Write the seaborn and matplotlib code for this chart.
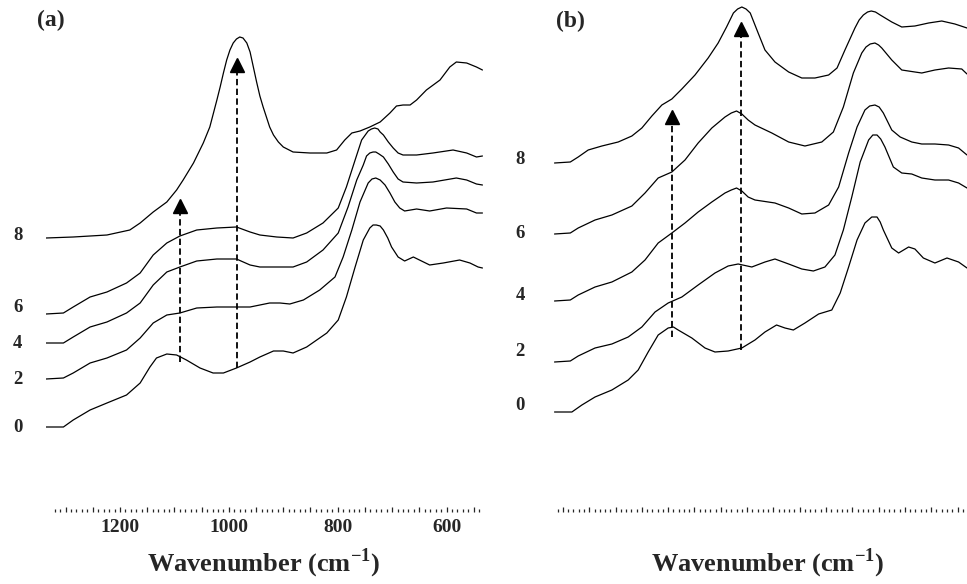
import numpy as np
import pandas as pd
import matplotlib
matplotlib.use('Agg')
import matplotlib.pyplot as plt
from matplotlib.ticker import FixedLocator, FuncFormatter
import seaborn as sns

sns.set_style('white')
plt.rcParams['font.family'] = ['Liberation Serif', 'DejaVu Serif']
plt.rcParams['font.weight'] = 'bold'
plt.rcParams['mathtext.fontset'] = 'custom'
plt.rcParams['mathtext.rm'] = 'Liberation Serif:bold'
plt.rcParams['mathtext.bf'] = 'Liberation Serif:bold'

times = [0, 2, 4, 6, 8]

# ---------------- panel (a) ----------------
a0_wn = [1336, 1304, 1286, 1255, 1224, 1188, 1163, 1145, 1133, 1114, 1096, 1078, 1053, 1029,
         1010, 986, 961, 943, 918, 900, 882, 857, 820, 799, 784, 768, 753, 741, 735, 729,
         722, 716, 708, 701, 689, 677, 661, 646, 631, 606, 576, 557, 542, 534]
a0_ab = [0.85, 0.85, 0.92, 1.02, 1.09, 1.17, 1.29, 1.45, 1.54, 1.58, 1.57, 1.52, 1.44, 1.39,
         1.39, 1.44, 1.50, 1.55, 1.61, 1.61, 1.59, 1.65, 1.79, 1.92, 2.15, 2.45, 2.72, 2.84, 2.87, 2.87,
         2.86, 2.82, 2.74, 2.65, 2.55, 2.51, 2.55, 2.51, 2.47, 2.49, 2.52, 2.49, 2.45, 2.44]

a2_wn = [1336, 1304, 1286, 1255, 1224, 1188, 1163, 1139, 1114, 1090, 1059, 1022, 986, 961,
         943, 925, 906, 888, 863, 833, 805, 790, 774, 759, 744, 737, 730, 722, 713, 704,
         695, 686, 677, 655, 631, 600, 563, 545, 534]
a2_ab = [1.33, 1.34, 1.39, 1.49, 1.54, 1.62, 1.74, 1.89, 1.97, 1.99, 2.04, 2.05, 2.05, 2.05,
         2.07, 2.09, 2.09, 2.08, 2.12, 2.22, 2.35, 2.55, 2.82, 3.10, 3.29, 3.33, 3.34, 3.32, 3.27, 3.19,
         3.10, 3.04, 3.01, 3.03, 3.01, 3.04, 3.03, 2.99, 2.99]

a4_wn = [1336, 1304, 1286, 1255, 1224, 1188, 1163, 1139, 1114, 1090, 1059, 1022, 986, 961,
         943, 912, 882, 857, 827, 799, 781, 765, 753, 747, 741, 735, 730, 724, 716, 707,
         698, 689, 680, 655, 625, 582, 563, 545, 534]
a4_ab = [1.69, 1.69, 1.75, 1.85, 1.90, 1.99, 2.09, 2.27, 2.40, 2.45, 2.51, 2.53, 2.53, 2.47,
         2.45, 2.45, 2.45, 2.50, 2.62, 2.79, 3.05, 3.32, 3.47, 3.56, 3.59, 3.60, 3.60, 3.58, 3.55, 3.48,
         3.40, 3.33, 3.30, 3.29, 3.30, 3.34, 3.32, 3.28, 3.27]

a6_wn = [1336, 1304, 1286, 1255, 1224, 1188, 1163, 1139, 1114, 1090, 1059, 1022, 986, 961,
         943, 912, 882, 857, 827, 799, 784, 768, 756, 744, 738, 732, 726, 722, 716, 707,
         698, 689, 680, 655, 625, 588, 563, 545, 534]
a6_ab = [1.98, 1.99, 2.05, 2.15, 2.20, 2.29, 2.39, 2.57, 2.69, 2.76, 2.82, 2.84, 2.85, 2.80,
         2.77, 2.75, 2.74, 2.79, 2.89, 3.04, 3.25, 3.52, 3.72, 3.81, 3.83, 3.84, 3.83, 3.80, 3.77, 3.70,
         3.64, 3.59, 3.57, 3.57, 3.59, 3.62, 3.59, 3.55, 3.56]

a8_wn = [1336, 1286, 1224, 1182, 1163, 1139, 1114, 1096, 1084, 1065, 1047, 1035, 1022, 1016,
         1010, 1004, 998, 992, 986, 980, 974, 967, 961, 955, 949, 943, 937, 931, 925, 918,
         909, 900, 882, 851, 820, 802, 787, 774, 759, 741, 722, 704, 692, 680, 667, 655,
         637, 612, 594, 582, 563, 545, 534]
a8_ab = [2.74, 2.75, 2.77, 2.82, 2.89, 3.00, 3.10, 3.22, 3.32, 3.49, 3.69, 3.85, 4.12, 4.25,
         4.39, 4.52, 4.62, 4.69, 4.73, 4.75, 4.74, 4.69, 4.60, 4.45, 4.30, 4.16, 4.05, 3.95, 3.85, 3.77,
         3.70, 3.65, 3.60, 3.59, 3.59, 3.62, 3.72, 3.79, 3.81, 3.85, 3.90, 3.99, 4.06, 4.07, 4.07, 4.12,
         4.22, 4.32, 4.45, 4.50, 4.49, 4.45, 4.42]

a_label_y = [0.85, 1.33, 1.69, 2.05, 2.77]
a_arrow_wn = [1090, 985]
a_arrow_start = [1.50, 1.44]
a_arrow_tip = [3.13, 4.54]

# ---------------- panel (b) ----------------
b0_wn = [1336, 1303, 1284, 1259, 1227, 1196, 1177, 1158, 1139, 1120, 1110, 1101, 1075, 1050,
         1031, 1006, 980, 955, 936, 914, 898, 882, 860, 834, 809, 793, 777, 761, 746, 733,
         723, 717, 711, 695, 682, 663, 651, 635, 613, 590, 568, 552]
b0_ab = [1.00, 1.00, 1.07, 1.15, 1.22, 1.32, 1.42, 1.60, 1.77, 1.84, 1.85, 1.82, 1.74, 1.64,
         1.60, 1.61, 1.64, 1.72, 1.80, 1.87, 1.84, 1.82, 1.89, 1.98, 2.02, 2.19, 2.45, 2.72, 2.89, 2.95,
         2.95, 2.90, 2.82, 2.64, 2.59, 2.65, 2.63, 2.54, 2.49, 2.54, 2.50, 2.44]

b2_wn = [1336, 1306, 1291, 1259, 1227, 1196, 1170, 1145, 1120, 1094, 1063, 1031, 1006, 987,
         961, 936, 917, 891, 866, 844, 822, 803, 787, 771, 755, 739, 731, 723, 716, 708,
         692, 676, 657, 638, 613, 587, 568, 552]
b2_ab = [1.50, 1.51, 1.56, 1.64, 1.68, 1.75, 1.85, 2.00, 2.09, 2.15, 2.27, 2.39, 2.46, 2.48,
         2.45, 2.50, 2.53, 2.48, 2.43, 2.41, 2.45, 2.57, 2.82, 3.15, 3.50, 3.72, 3.77, 3.77, 3.73, 3.65,
         3.45, 3.39, 3.38, 3.34, 3.32, 3.32, 3.29, 3.24]

b4_wn = [1336, 1306, 1291, 1259, 1227, 1189, 1164, 1139, 1113, 1088, 1063, 1037, 1012, 1000,
         990, 980, 968, 955, 917, 891, 866, 841, 815, 796, 777, 761, 746, 737, 727, 719,
         711, 695, 679, 657, 638, 613, 587, 568, 552]
b4_ab = [2.11, 2.12, 2.17, 2.25, 2.30, 2.40, 2.52, 2.69, 2.79, 2.89, 3.00, 3.10, 3.19, 3.22,
         3.24, 3.21, 3.15, 3.12, 3.09, 3.04, 2.98, 2.99, 3.07, 3.25, 3.59, 3.85, 4.02, 4.06, 4.07, 4.05,
         3.99, 3.82, 3.75, 3.70, 3.68, 3.68, 3.67, 3.64, 3.57]

b6_wn = [1336, 1306, 1291, 1259, 1227, 1189, 1164, 1139, 1113, 1088, 1063, 1037, 1012, 1000,
         990, 980, 968, 955, 923, 891, 860, 828, 806, 787, 768, 752, 744, 736, 727, 720,
         714, 695, 676, 651, 638, 613, 587, 562, 552]
b6_ab = [2.78, 2.79, 2.84, 2.92, 2.97, 3.06, 3.19, 3.34, 3.40, 3.52, 3.69, 3.84, 3.95, 3.99,
         4.01, 3.98, 3.92, 3.87, 3.79, 3.70, 3.66, 3.70, 3.80, 4.05, 4.39, 4.59, 4.65, 4.68, 4.69, 4.67,
         4.64, 4.52, 4.42, 4.40, 4.39, 4.42, 4.44, 4.43, 4.38]

b8_wn = [1336, 1306, 1291, 1272, 1246, 1215, 1189, 1170, 1151, 1132, 1113, 1094, 1069, 1044,
         1025, 1009, 996, 988, 980, 972, 964, 955, 949, 936, 917, 891, 866, 841, 815, 799,
         784, 765, 757, 749, 741, 734, 726, 717, 695, 676, 651, 625, 600, 575, 552]
b8_ab = [3.49, 3.50, 3.55, 3.62, 3.66, 3.70, 3.76, 3.84, 3.96, 4.07, 4.13, 4.23, 4.37, 4.54,
         4.69, 4.85, 4.99, 5.03, 5.05, 5.03, 4.99, 4.87, 4.79, 4.62, 4.50, 4.40, 4.34, 4.34, 4.37, 4.44,
         4.62, 4.84, 4.92, 4.97, 5.00, 5.01, 5.00, 4.97, 4.90, 4.85, 4.86, 4.89, 4.91, 4.88, 4.84]

b_label_y = [1.06, 1.60, 2.17, 2.79, 3.53]
b_arrow_wn = [1113, 981]
b_arrow_start = [1.75, 1.62]
b_arrow_tip = [4.02, 4.90]


def make_frame(wns, abss):
    parts = []
    for t, w, a in zip(times, wns, abss):
        parts.append(pd.DataFrame({'wavenumber': w, 'absorbance': a, 'time': t}))
    return pd.concat(parts, ignore_index=True)


df_a = make_frame([a0_wn, a2_wn, a4_wn, a6_wn, a8_wn], [a0_ab, a2_ab, a4_ab, a6_ab, a8_ab])
df_b = make_frame([b0_wn, b2_wn, b4_wn, b6_wn, b8_wn], [b0_ab, b2_ab, b4_ab, b6_ab, b8_ab])

fig = plt.figure(figsize=(9.67, 5.84), dpi=100)
ax_a = fig.add_axes([46 / 967, 72 / 584, 437 / 967, 512 / 584])
ax_b = fig.add_axes([554 / 967, 72 / 584, 413 / 967, 512 / 584])


def style_panel(ax, df, xlim, tick_lo, tick_hi, label_y, label_x, arr_wn, arr_start, arr_tip, xlab_x):
    sns.lineplot(data=df, x='wavenumber', y='absorbance', units='time', estimator=None,
                 color='black', lw=0.9, sort=False, ax=ax, legend=False)
    for w, s, t in zip(arr_wn, arr_start, arr_tip):
        ax.plot([w, w], [s, t - 0.1], color='black', lw=1.3, linestyle=(0, (3.5, 1.9)))
        ax.plot([w], [t - 0.07], marker='^', ms=10.5, color='black', mec='black')
    for t, y in zip(times, label_y):
        ax.text(label_x, y, str(t), ha='center', va='center', fontsize=13.5,
                fontweight='bold', clip_on=False)
    ax.set_xlim(*xlim)
    ax.set_ylim(0, 5.12)
    ax.set_yticks([])
    ax.set_ylabel('')
    for sp in ax.spines.values():
        sp.set_visible(False)
    ax.xaxis.set_major_locator(FixedLocator(list(range(tick_lo + 10, tick_hi + 1, 50))))
    ax.xaxis.set_minor_locator(FixedLocator(list(range(tick_lo, tick_hi + 1, 10))))
    ax.xaxis.set_major_formatter(FuncFormatter(lambda v, p: '%d' % v if int(v) % 200 == 0 else ''))
    ax.tick_params(axis='x', which='major', direction='in', length=3.8, width=0.9,
                   pad=5, labelsize=14, bottom=True)
    ax.tick_params(axis='x', which='minor', direction='in', length=2.0, width=0.9, bottom=True)
    for lab in ax.get_xticklabels():
        lab.set_fontweight('bold')
    ax.set_xlabel(r'Wavenumber (cm$^{\mathbf{-1}}$)', fontsize=19, fontweight='bold')
    ax.xaxis.label.set_verticalalignment('baseline')
    ax.xaxis.set_label_coords(xlab_x, -0.117)
    ax.set_facecolor('white')


style_panel(ax_a, df_a, (1336, 533), 540, 1320, a_label_y, 1388, a_arrow_wn, a_arrow_start,
            a_arrow_tip, 0.497)
style_panel(ax_b, df_b, (1337, 552), 560, 1330, b_label_y, 1401, b_arrow_wn, b_arrow_start,
            b_arrow_tip, 0.518)

fig.text(51 / 967, 1 - 20 / 584, '(a)', ha='center', va='center', fontsize=17, fontweight='bold')
fig.text(570 / 967, 1 - 21 / 584, '(b)', ha='center', va='center', fontsize=17, fontweight='bold')

fig.savefig('out.png', dpi=100, facecolor='white')
